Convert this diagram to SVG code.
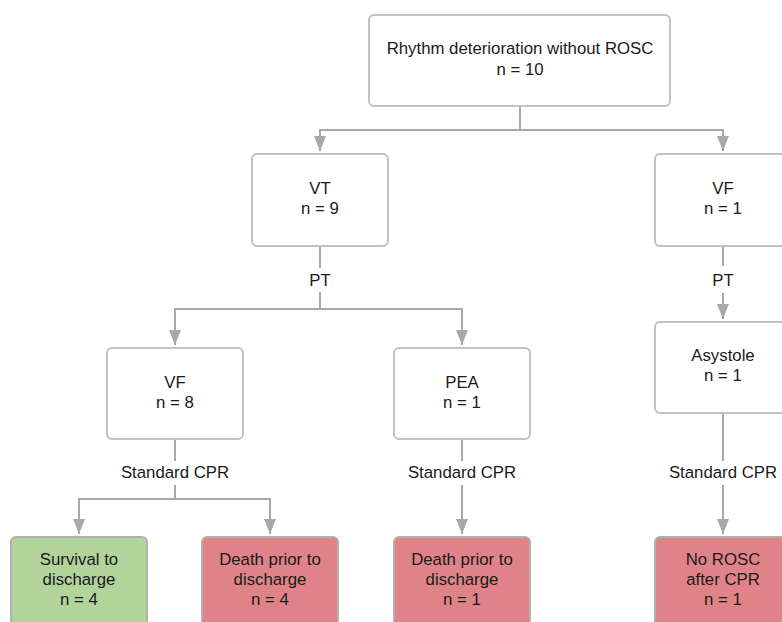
<svg xmlns="http://www.w3.org/2000/svg" width="782" height="622" viewBox="0 0 782 622">
  <defs>
    <style>
      .box { fill: #ffffff; stroke: #c2c2c2; stroke-width: 2; }
      .good { fill: #b2d49a; stroke: #b0b0b0; stroke-width: 2; }
      .bad { fill: #e08389; stroke: #b0b0b0; stroke-width: 2; }
      .t { font-family: "Liberation Sans", Arial, sans-serif; font-size: 16.8px; fill: #1a1a1a; text-anchor: middle; }
      .c { fill: none; stroke: #a8a8a8; stroke-width: 2; }
      .arr { marker-end: url(#ah); }
    </style>
    <marker id="ah" viewBox="0 0 15 12" refX="15" refY="6" markerWidth="15" markerHeight="12" markerUnits="userSpaceOnUse" orient="auto">
      <path d="M0,0 L15,6 L0,12 z" fill="#a8a8a8"/>
    </marker>
  </defs>
  <rect width="782" height="622" fill="#ffffff"/>

  <g id="connectors">
    <path class="c" d="M520,106 V130 H320 V151" marker-end="url(#ah)"/>
    <path class="c" d="M520,130 H723 V151" marker-end="url(#ah)"/>
    <path class="c" d="M320,246 V268"/>
    <text class="t" x="320" y="286">PT</text>
    <path class="c" d="M320,292 V309 H175 V345" marker-end="url(#ah)"/>
    <path class="c" d="M320,309 H462 V345" marker-end="url(#ah)"/>
    <path class="c" d="M723,246 V266"/>
    <text class="t" x="723" y="285.5">PT</text>
    <path class="c" d="M723,293 V319" marker-end="url(#ah)"/>
    <path class="c" d="M175,439 V461"/>
    <text class="t" x="175" y="478">Standard CPR</text>
    <path class="c" d="M175,485 V499 H79 V534" marker-end="url(#ah)"/>
    <path class="c" d="M175,499 H270 V534" marker-end="url(#ah)"/>
    <path class="c" d="M462,439 V461"/>
    <text class="t" x="462" y="478">Standard CPR</text>
    <path class="c" d="M462,485 V534" marker-end="url(#ah)"/>
    <path class="c" d="M723,413 V461"/>
    <text class="t" x="723" y="478">Standard CPR</text>
    <path class="c" d="M723,485 V534" marker-end="url(#ah)"/>
  </g>

  <g id="root">
    <rect class="box" x="369" y="15" width="301" height="91" rx="5"/>
    <text class="t" x="520" y="54">Rhythm deterioration without ROSC</text>
    <text class="t" x="520" y="75">n = 10</text>
  </g>

  <g id="vt">
    <rect class="box" x="252" y="154" width="136" height="92" rx="5"/>
    <text class="t" x="320" y="194">VT</text>
    <text class="t" x="320" y="214">n = 9</text>
  </g>

  <g id="vf-right">
    <rect class="box" x="655" y="154" width="136" height="92" rx="5"/>
    <text class="t" x="723" y="194">VF</text>
    <text class="t" x="723" y="214">n = 1</text>
  </g>

  <g id="vf8">
    <rect class="box" x="107" y="348" width="136" height="91" rx="5"/>
    <text class="t" x="175" y="388">VF</text>
    <text class="t" x="175" y="408">n = 8</text>
  </g>

  <g id="pea">
    <rect class="box" x="394" y="348" width="136" height="91" rx="5"/>
    <text class="t" x="462" y="388">PEA</text>
    <text class="t" x="462" y="408">n = 1</text>
  </g>

  <g id="asystole">
    <rect class="box" x="655" y="322" width="136" height="91" rx="5"/>
    <text class="t" x="723" y="361">Asystole</text>
    <text class="t" x="723" y="381">n = 1</text>
  </g>

  <g id="survival">
    <rect class="good" x="11" y="537" width="136" height="92" rx="5"/>
    <text class="t" x="79" y="565">Survival to</text>
    <text class="t" x="79" y="585">discharge</text>
    <text class="t" x="79" y="605">n = 4</text>
  </g>

  <g id="death4">
    <rect class="bad" x="202" y="537" width="136" height="92" rx="5"/>
    <text class="t" x="270" y="565">Death prior to</text>
    <text class="t" x="270" y="585">discharge</text>
    <text class="t" x="270" y="605">n = 4</text>
  </g>

  <g id="death1">
    <rect class="bad" x="394" y="537" width="136" height="92" rx="5"/>
    <text class="t" x="462" y="565">Death prior to</text>
    <text class="t" x="462" y="585">discharge</text>
    <text class="t" x="462" y="605">n = 1</text>
  </g>

  <g id="norosc">
    <rect class="bad" x="655" y="537" width="136" height="92" rx="5"/>
    <text class="t" x="723" y="565">No ROSC</text>
    <text class="t" x="723" y="585">after CPR</text>
    <text class="t" x="723" y="605">n = 1</text>
  </g>
</svg>
